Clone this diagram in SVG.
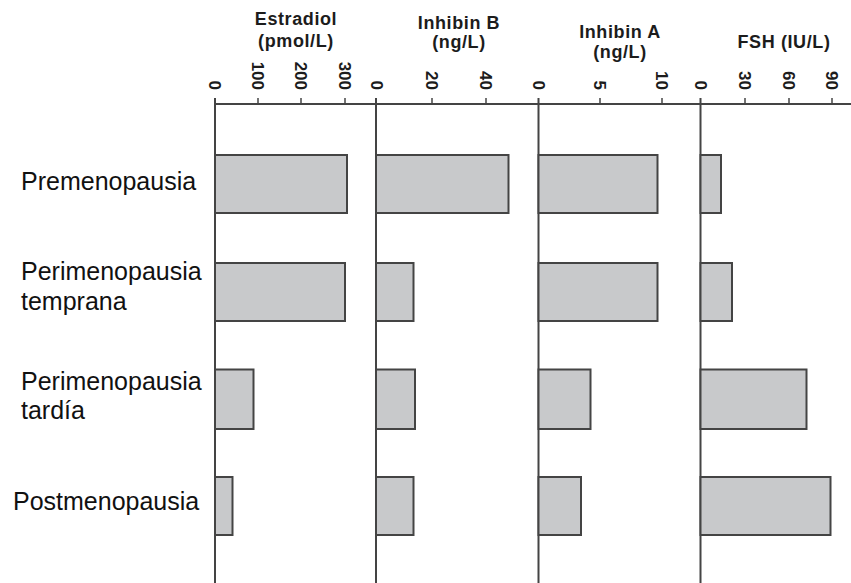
<svg xmlns="http://www.w3.org/2000/svg" width="851" height="583" viewBox="0 0 851 583">
<style>
.hdr{font-family:"Liberation Sans",Arial,sans-serif;font-weight:bold;font-size:18px;fill:#1c1c1c;text-anchor:middle;letter-spacing:0.6px}
.tk{font-family:"Liberation Sans",Arial,sans-serif;font-weight:bold;font-size:17px;fill:#1c1c1c;text-anchor:end}
.cat{font-family:"Liberation Sans",Arial,sans-serif;font-size:25px;fill:#111}
.ax{stroke:#444;stroke-width:2;fill:none}
.tick{stroke:#444;stroke-width:1.5}
.bar{fill:#c8c9cb;stroke:#444;stroke-width:2}
</style>
<rect width="851" height="583" fill="#fff"/>
<g id="headers">
<text class="hdr" x="296" y="25">Estradiol</text>
<text class="hdr" x="296" y="47">(pmol/L)</text>
<text class="hdr" x="459" y="28.5">Inhibin B</text>
<text class="hdr" x="459" y="47.5">(ng/L)</text>
<text class="hdr" x="620" y="38">Inhibin A</text>
<text class="hdr" x="620" y="58">(ng/L)</text>
<text class="hdr" x="784" y="47.5">FSH (IU/L)</text>
</g>
<g id="ticklabels">
<text class="tk" transform="translate(215,90) rotate(90)" dy="0.36em">0</text>
<text class="tk" transform="translate(258,90) rotate(90)" dy="0.36em">100</text>
<text class="tk" transform="translate(301,90) rotate(90)" dy="0.36em">200</text>
<text class="tk" transform="translate(345,90) rotate(90)" dy="0.36em">300</text>
<text class="tk" transform="translate(377,90) rotate(90)" dy="0.36em">0</text>
<text class="tk" transform="translate(432,90) rotate(90)" dy="0.36em">20</text>
<text class="tk" transform="translate(486,90) rotate(90)" dy="0.36em">40</text>
<text class="tk" transform="translate(539,90) rotate(90)" dy="0.36em">0</text>
<text class="tk" transform="translate(600,90) rotate(90)" dy="0.36em">5</text>
<text class="tk" transform="translate(662,90) rotate(90)" dy="0.36em">10</text>
<text class="tk" transform="translate(701,90) rotate(90)" dy="0.36em">0</text>
<text class="tk" transform="translate(745,90) rotate(90)" dy="0.36em">30</text>
<text class="tk" transform="translate(789,90) rotate(90)" dy="0.36em">60</text>
<text class="tk" transform="translate(832,90) rotate(90)" dy="0.36em">90</text>
</g>
<g id="axes">
<line class="ax" x1="214" y1="104" x2="851" y2="104"/>
<line class="tick" x1="258" y1="98" x2="258" y2="104"/>
<line class="tick" x1="301" y1="98" x2="301" y2="104"/>
<line class="tick" x1="345" y1="98" x2="345" y2="104"/>
<line class="tick" x1="432" y1="98" x2="432" y2="104"/>
<line class="tick" x1="486" y1="98" x2="486" y2="104"/>
<line class="tick" x1="600" y1="98" x2="600" y2="104"/>
<line class="tick" x1="662" y1="98" x2="662" y2="104"/>
<line class="tick" x1="745" y1="98" x2="745" y2="104"/>
<line class="tick" x1="789" y1="98" x2="789" y2="104"/>
<line class="tick" x1="832" y1="98" x2="832" y2="104"/>
<line class="ax" x1="215" y1="98" x2="215" y2="583"/>
<line class="ax" x1="376" y1="98" x2="376" y2="583"/>
<line class="ax" x1="538.5" y1="98" x2="538.5" y2="583"/>
<line class="ax" x1="700.5" y1="98" x2="700.5" y2="583"/>
</g>
<g id="premenopausia">
<text class="cat" x="21" y="190">Premenopausia</text>
<rect class="bar" x="215" y="155" width="132" height="58"/>
<rect class="bar" x="376" y="155" width="132.5" height="58"/>
<rect class="bar" x="538.5" y="155" width="119" height="58"/>
<rect class="bar" x="700.5" y="155" width="20.5" height="58"/>
</g>
<g id="perimenopausia-temprana">
<text class="cat" x="21" y="279.5">Perimenopausia</text>
<text class="cat" x="21" y="309.5">temprana</text>
<rect class="bar" x="215" y="263" width="130" height="58"/>
<rect class="bar" x="376" y="263" width="37.5" height="58"/>
<rect class="bar" x="538.5" y="263" width="119" height="58"/>
<rect class="bar" x="700.5" y="263" width="31.5" height="58"/>
</g>
<g id="perimenopausia-tardia">
<text class="cat" x="21" y="389.5">Perimenopausia</text>
<text class="cat" x="21" y="418.5">tardía</text>
<rect class="bar" x="215" y="369.5" width="38.5" height="59.5"/>
<rect class="bar" x="376" y="369.5" width="39" height="59.5"/>
<rect class="bar" x="538.5" y="369.5" width="52" height="59.5"/>
<rect class="bar" x="700.5" y="369.5" width="106" height="59.5"/>
</g>
<g id="postmenopausia">
<text class="cat" x="13" y="509.5">Postmenopausia</text>
<rect class="bar" x="215" y="477" width="17.5" height="58"/>
<rect class="bar" x="376" y="477" width="37.5" height="58"/>
<rect class="bar" x="538.5" y="477" width="42.5" height="58"/>
<rect class="bar" x="700.5" y="477" width="130" height="58"/>
</g>
</svg>
